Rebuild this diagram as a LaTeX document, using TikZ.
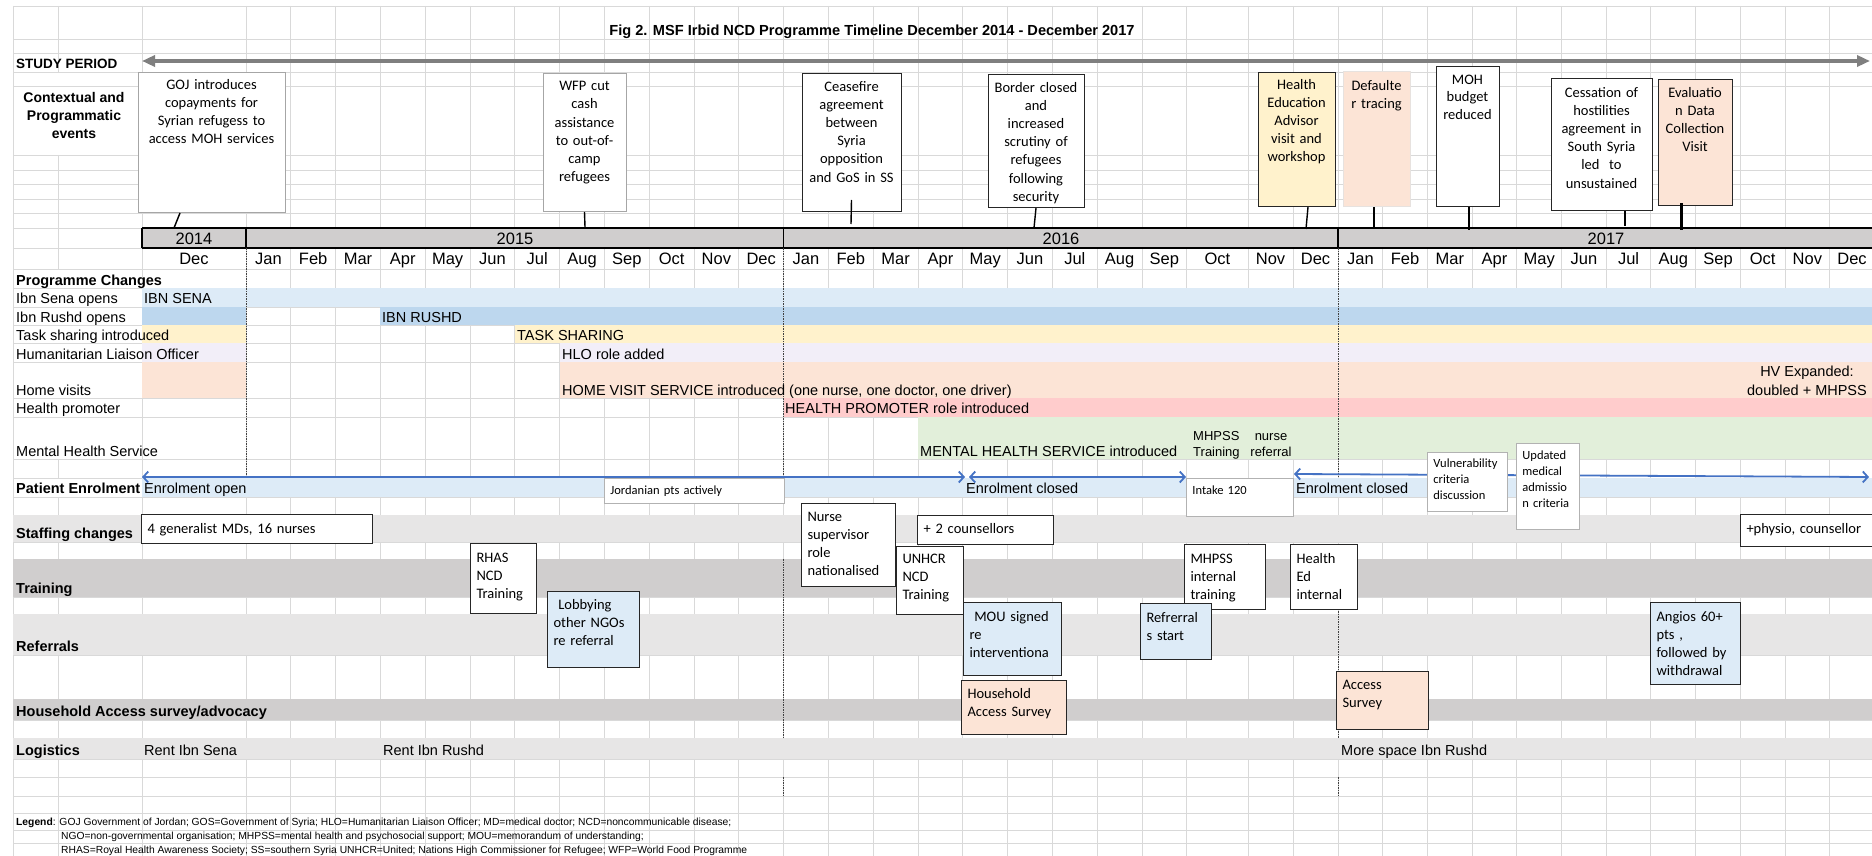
\documentclass[tikz,border=0pt]{standalone}
\usepackage{fontspec}
\setmainfont{Liberation Sans}
\newfontfamily\calibri{Carlito}
\usetikzlibrary{positioning,arrows.meta}

\definecolor{gridc}{HTML}{D9D9D9}
\definecolor{yrgray}{HTML}{D0CECE}
\definecolor{ltgray}{HTML}{E7E6E6}
\definecolor{senablue}{HTML}{DDEBF7}
\definecolor{rushdblue}{HTML}{BDD7EE}
\definecolor{taskyel}{HTML}{FFF2CC}
\definecolor{hlolav}{HTML}{F2EEF8}
\definecolor{hvpeach}{HTML}{FCE4D6}
\definecolor{hppink}{HTML}{FFCCCC}
\definecolor{mhgreen}{HTML}{E2EFDA}
\definecolor{arrblue}{HTML}{4472C4}
\definecolor{spgray}{HTML}{7F7F7F}

\begin{document}
\begin{tikzpicture}[
            x = 1pt, y = -1pt, % one unit per pixel, y going down
            grid/.style = {draw=gridc, line width=0.9pt},
            lbl/.style = {anchor=west, inner sep=0, text height=10.4pt, text depth=0pt, font=\fontsize{14.5}{17}\selectfont},
            hdr/.style = {lbl, font=\fontsize{14.5}{17}\selectfont\bfseries},
            month/.style = {inner sep=0, text height=11.8pt, text depth=0pt, font=\fontsize{16.5}{19}\selectfont},
            evbox/.style = {draw=black!85, line width=1pt, fill=white, anchor=north, align=center, inner xsep=2pt, inner ysep=0pt, font=\calibri\fontsize{14.5}{18.2}\selectfont},
            evboxlt/.style = {evbox, draw=black!35},
            lbox/.style = {draw=black!85, line width=1pt, fill=white, anchor=north west, align=left, inner xsep=6pt, inner ysep=0pt, font=\calibri\fontsize{14.5}{18}\selectfont},
            sbox/.style = {lbox, draw=black!30, line width=0.8pt, font=\calibri\fontsize{12.5}{16}\selectfont},
            tick/.style = {draw=black, line width=1.4pt},
            enrol/.style = {draw=arrblue, line width=1.8pt, {Straight Barb[length=5pt,width=11pt]}-{Straight Barb[length=5pt,width=11pt]}},
            cutline/.style = {draw=black!75, line width=0.8pt, dash pattern=on 1.5pt off 1pt},
            legend/.style = {anchor=west, inner sep=0, text height=7.4pt, text depth=0pt, font=\fontsize{10.3}{12}\selectfont}
        ]
\useasboundingbox (0,0) rectangle (1872,856);
\fill[white] (0,0) rectangle (1872,856);

% spreadsheet grid
\foreach \y in {6,39,53,72,86,155,170,184,199,213,228,248,269,288,307,325,343,362,398,417,459,478,497,515,542,559,597,614,655,699,720,738,759,777,796,813,830,843}
  \draw[grid] (13,\y) -- (1872,\y);
\foreach \x in {13,142,246,290.8,335.6,380.4,425.2,470,514.8,559.6,604.4,649.2,694,738.8,783.6,828.4,873.2,918,962.8,1007.6,1052.4,1097.2,1142,1186.8,1248,1293,1338,1382.7,1427.4,1472.1,1516.8,1561.5,1606.2,1650.9,1695.6,1740.3,1785,1829.7}
  \draw[grid] (\x,6) -- (\x,856);
\foreach \a/\b in {6/72,155/269,459/478,497/856}
  \draw[grid] (58,\a) -- (58,\b);

% coloured bands
\fill[senablue] (142,288) rectangle (1872,307);
\fill[rushdblue] (142,307) rectangle (246,325);
\fill[rushdblue] (380.4,307) rectangle (1872,325);
\fill[taskyel] (142,325) rectangle (246,343);
\fill[taskyel] (514.8,325) rectangle (1872,343);
\fill[hlolav] (142,343) rectangle (246,362);
\fill[hlolav] (559.6,343) rectangle (1872,362);
\fill[hvpeach] (142,362) rectangle (246,398);
\fill[hvpeach] (559.6,362) rectangle (1872,398);
\fill[hppink] (783.6,398) rectangle (1872,417);
\fill[mhgreen] (918,417) rectangle (1872,459);
\fill[senablue] (142,478) rectangle (1872,497);
\fill[ltgray] (13,515) rectangle (1872,542);
\fill[yrgray] (13,559) rectangle (1872,597);
\fill[ltgray] (13,614) rectangle (1872,655);
\fill[yrgray] (13,699) rectangle (1872,720);
\fill[ltgray] (13,738) rectangle (1872,759);

% year row
\fill[yrgray] (142,228) rectangle (1872,248);
\draw[black, line width=1.2pt] (142,228) -- (1872,228) (142,248) -- (1872,248);
\draw[black, line width=1.2pt] (142,228) -- (142,248) (246,228) -- (246,248) (783.6,228) -- (783.6,248) (1338,228) -- (1338,248);

% year ends
\draw[cutline] (246,248) -- (246,478);
\draw[cutline] (783.6,248) -- (783.6,478) (783.6,559) -- (783.6,738) (783.6,777) -- (783.6,796);
\draw[cutline] (1338,248) -- (1338,478) (1338,606) -- (1338,738) (1338,777) -- (1338,796);

\node[font=\fontsize{14.6}{17}\selectfont\bfseries] (title) at (872,32) {Fig 2. MSF Irbid NCD Programme Timeline December 2014 - December 2017};
\node[lbl, font=\fontsize{13.5}{16}\selectfont\bfseries] (study) at (16,63) {STUDY PERIOD};
\node[align=center, anchor=north, inner sep=0, font=\fontsize{14}{18}\selectfont\bfseries] (ctx) at (74,92) {Contextual and\\Programmatic\\events};

\node[month] (y14) at (194,239) {2014};
\node[month] (y15) at (515,239) {2015};
\node[month] (y16) at (1061,239) {2016};
\node[month] (y17) at (1606,239) {2017};
\foreach \x/\m [count=\i] in {194/Dec,268.4/Jan,313.2/Feb,358/Mar,402.8/Apr,447.6/May,492.4/Jun,537.2/Jul,582/Aug,626.8/Sep,671.6/Oct,716.4/Nov,761.2/Dec,806/Jan,850.8/Feb,895.6/Mar,940.4/Apr,985.2/May,1030/Jun,1074.8/Jul,1119.6/Aug,1164.4/Sep,1217.4/Oct,1270.5/Nov,1315.5/Dec,1360.4/Jan,1405/Feb,1449.8/Mar,1494.5/Apr,1539.2/May,1583.9/Jun,1628.6/Jul,1673.3/Aug,1718/Sep,1762.7/Oct,1807.4/Nov,1852/Dec}
  \node[month] (m\i) at (\x,259) {\m};

% row labels
\node[hdr] (prog) at (16,280) {Programme Changes};
\node[lbl] (l-sena) at (16,298) {Ibn Sena opens};
\node[lbl] (l-rushd) at (16,317) {Ibn Rushd opens};
\node[lbl] (l-task) at (16,335) {Task sharing introduced};
\node[lbl] (l-hlo) at (16,354) {Humanitarian Liaison Officer};
\node[lbl] (l-hv) at (16,390) {Home visits};
\node[lbl] (l-hp) at (16,408) {Health promoter};
\node[lbl] (l-mh) at (16,451) {Mental Health Service};
\node[hdr] (l-enrol) at (16,488) {Patient Enrolment};
\node[hdr] (l-staff) at (16,533) {Staffing changes};
\node[hdr] (l-train) at (16,588) {Training};
\node[hdr] (l-ref) at (16,646) {Referrals};
\node[hdr] (l-hh) at (16,711) {Household Access survey/advocacy};
\node[hdr] (l-log) at (16,750) {Logistics};

% band texts
\node[lbl] (t-sena) at (144,298) {IBN SENA};
\node[lbl] (t-rushd) at (382,317) {IBN RUSHD};
\node[lbl] (t-task) at (517,335) {TASK SHARING};
\node[lbl] (t-hlo) at (562,354) {HLO role added};
\node[lbl] (t-hv) at (562,390) {HOME VISIT SERVICE introduced (one nurse, one doctor, one driver)};
\node[align=center, anchor=north, inner sep=0, font=\fontsize{14.5}{19}\selectfont] (t-hvx) at (1807,366) {HV Expanded:\\doubled + MHPSS};
\node[lbl] (t-hp) at (785,408) {HEALTH PROMOTER role introduced};
\node[lbl] (t-mh) at (920,451) {MENTAL HEALTH SERVICE introduced};
\node[align=left, anchor=north west, inner sep=0, font=\fontsize{13}{16}\selectfont] (t-mhpss) at (1193,431.2) {MHPSS\\Training};
\node[align=center, anchor=north, inner sep=0, font=\fontsize{13}{16}\selectfont] (t-nurse) at (1271,433.8) {nurse\\referral};
\node[lbl] (t-open) at (144,488) {Enrolment open};
\node[lbl] (t-cl1) at (966,488) {Enrolment closed};
\node[lbl] (t-cl2) at (1296,488) {Enrolment closed};
\node[lbl] (t-rsena) at (144,750) {Rent Ibn Sena};
\node[lbl] (t-rrushd) at (383,750) {Rent Ibn Rushd};
\node[lbl] (t-space) at (1341,750) {More space Ibn Rushd};

% study period and enrolment arrows
\coordinate (sp-l) at (142,61);
\coordinate (sp-r) at (1870,61);
\draw[spgray, line width=4pt, {Triangle[length=13pt,width=11pt]}-{Triangle[length=13pt,width=11pt]}] (sp-l) -- (sp-r);
\coordinate (e1a) at (142,477);
\coordinate (e1b) at (965,477);
\coordinate (e2a) at (969,477);
\coordinate (e2b) at (1186,477);
\coordinate (e3a) at (1294,474);
\coordinate (e3b) at (1869,477);
\draw[enrol] (e1a) -- (e1b);
\draw[enrol] (e2a) -- (e2b);
\draw[enrol] (e3a) -- (e3b);

% contextual events
\node[evboxlt, text width=143pt, text height=16.7pt, text depth=123.3pt] (goj) at (211.5,72) {GOJ introduces\\copayments for\\Syrian refugess to\\access MOH services};
\node[evboxlt, text width=79pt, text height=17.2pt, text depth=120.8pt] (wfp) at (584.5,73) {WFP cut\\cash\\assistance\\to out-of-\\camp\\refugees};
\node[evbox, text width=95pt, text height=17.7pt, text depth=120.3pt] (cease) at (851.5,73) {Ceasefire\\agreement\\between\\Syria\\opposition\\and GoS in SS};
\node[evbox, text width=92pt, text height=17.7pt, text depth=115.3pt] (border) at (1036,74) {Border closed\\and\\increased\\scrutiny of\\refugees\\following\\security};
\node[evbox, fill=taskyel, text width=73pt, text height=16.7pt, text depth=117.3pt] (hea) at (1296.5,72) {Health\\Education\\Advisor\\visit and\\workshop};
\node[evbox, draw=hvpeach!70!black!30, fill=hvpeach, text width=63pt, text height=18.7pt, text depth=116.3pt] (deflt) at (1376.5,71) {Defaulte\\r tracing};
\node[evbox, font=\calibri\fontsize{14.5}{17.5}\selectfont, text width=59pt, text height=17.7pt, text depth=122.3pt] (moh) at (1467.5,66) {MOH\\budget\\reduced};
\node[evbox, text width=97pt, text height=18.7pt, text depth=113.3pt] (cess) at (1601.5,78) {Cessation of\\hostilities\\agreement in\\South Syria\\led\ \ to\\unsustained};
\node[evbox, fill=hvpeach, text width=70pt, text height=17.7pt, text depth=108.3pt] (evalv) at (1695,79) {Evaluatio\\n Data\\Collection\\Visit};

\coordinate (k-goj) at (174,228);
\coordinate (k-wfp) at (585,227);
\coordinate (k-cease) at (851,224);
\coordinate (k-border) at (1034,228);
\coordinate (k-hea) at (1306,229);
\coordinate (k-deflt) at (1374,227);
\coordinate (k-moh) at (1469,230);
\coordinate (k-cess) at (1625,226);
\coordinate (k-evalv) at (1681,230);
\draw[tick] ([xshift=-31.5pt]goj.south) -- (k-goj);
\draw[tick] (wfp.south) -- (k-wfp);
\draw[tick] ([yshift=12pt]cease.south) -- (k-cease);
\draw[tick] (border.south) -- (k-border);
\draw[tick] ([xshift=11.5pt]hea.south) -- (k-hea);
\draw[tick] ([xshift=-2.5pt]deflt.south) -- (k-deflt);
\draw[tick] ([xshift=1.5pt]moh.south) -- (k-moh);
\draw[tick] ([xshift=23.5pt]cess.south) -- (k-cess);
\draw[tick, line width=3pt] ([xshift=-14pt,yshift=3pt]evalv.south) -- (k-evalv);

% enrolment notes
\node[sbox, text width=168pt, text height=16pt, text depth=9pt] (b-jord) at (604,478) {Jordanian pts actively};
\node[sbox, text width=95pt, text height=16pt, text depth=22pt] (b-intake) at (1186,478) {Intake 120};
\node[sbox, text width=68pt, text height=15pt, text depth=44pt] (b-vuln) at (1427,452) {Vulnerability\\criteria\\discussion};
\node[sbox, text width=51pt, text height=16pt, text depth=70pt] (b-upd) at (1516,443) {Updated\\medical\\admissio\\n criteria};

% staffing, training, referrals, household access
\node[lbox, text width=219pt, text height=18.7pt, text depth=10.3pt] (b-gen) at (141,514) {4 generalist MDs, 16 nurses};
\node[lbox, text width=82pt, text height=17.7pt, text depth=65.3pt] (b-nurse) at (801,503) {Nurse\\supervisor\\role\\nationalised};
\node[lbox, text width=124pt, text height=17.7pt, text depth=11.3pt] (b-couns) at (917,515) {+ 2 counsellors};
\node[lbox, text width=128pt, text height=18.7pt, text depth=13.3pt] (b-physio) at (1740,514) {+physio, counsellor};
\node[lbox, text width=54pt, text height=18.7pt, text depth=51.3pt] (b-rhas) at (470,543) {RHAS\\NCD\\Training};
\node[lbox, text width=55pt, text height=16.7pt, text depth=51.3pt] (b-unhcr) at (896,546) {UNHCR\\NCD\\Training};
\node[lbox, text width=69pt, text height=18.7pt, text depth=46.3pt] (b-mhpss) at (1184,544) {MHPSS\\internal\\training};
\node[lbox, text width=55pt, text height=18.7pt, text depth=46.3pt] (b-hed) at (1290,544) {Health\\Ed\\internal};
\node[lbox, fill=senablue, text width=80pt, text height=17.7pt, text depth=58.3pt] (b-lobby) at (547,591) {\ Lobbying\\other NGOs\\re referral};
\node[lbox, fill=senablue, text width=86pt, text height=18.7pt, text depth=54.3pt] (b-mou) at (963,602) {\ MOU signed\\re\\interventiona};
\node[lbox, fill=senablue, text width=59pt, text height=18.7pt, text depth=37.3pt] (b-refs) at (1140,603) {Refrerral\\s start};
\node[lbox, fill=senablue, text width=78pt, text height=18.7pt, text depth=63.3pt] (b-angio) at (1650,602) {Angios 60+\\pts ,\\followed by\\withdrawal};
\node[lbox, fill=hvpeach, text width=93pt, text height=17.7pt, text depth=36.3pt] (b-hhas) at (961,680) {Household\\Access Survey};
\node[lbox, fill=hvpeach, text width=80pt, text height=17.7pt, text depth=40.3pt] (b-acc) at (1336,671) {Access\\Survey};

% legend
\node[legend] (leg1) at (16,822) {\textbf{Legend}: GOJ Government of Jordan; GOS=Government of Syria; HLO=Humanitarian Liaison Officer; MD=medical doctor; NCD=noncommunicable disease;};
\node[legend] (leg2) at (61,836) {NGO=non-governmental organisation; MHPSS=mental health and psychosocial support; MOU=memorandum of understanding;};
\node[legend] (leg3) at (61,850) {RHAS=Royal Health Awareness Society; SS=southern Syria UNHCR=United; Nations High Commissioner for Refugee; WFP=World Food Programme};
\end{tikzpicture}
\end{document}
